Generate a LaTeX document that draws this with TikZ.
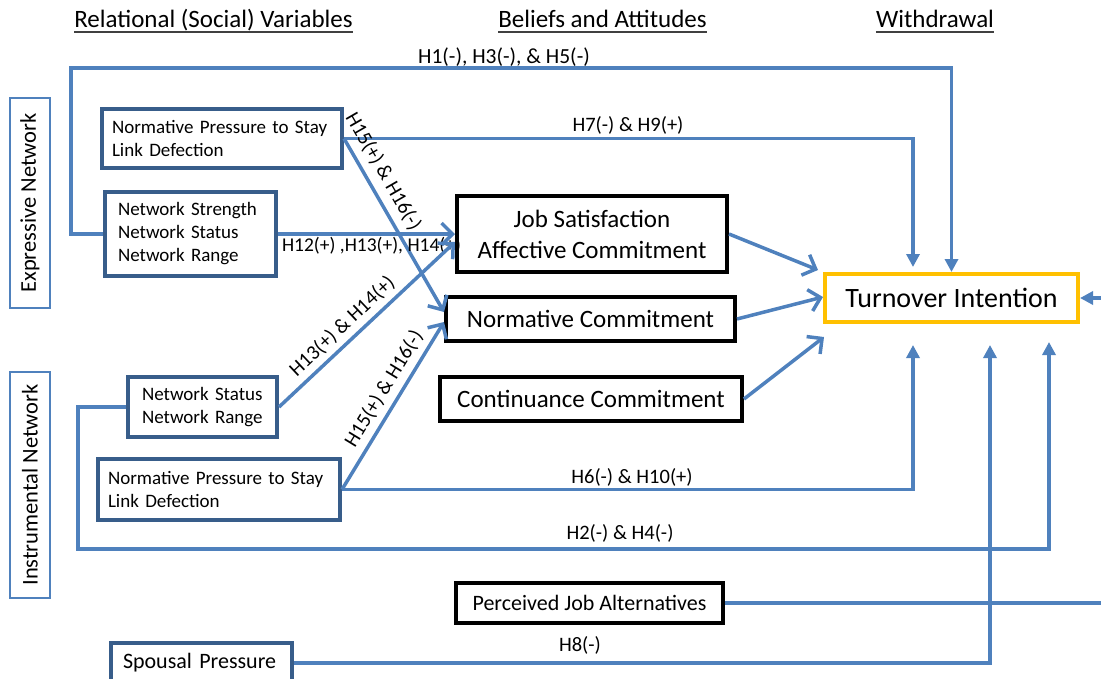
\documentclass[tikz,border=0pt]{standalone}
\usepackage{fontspec}
\setmainfont{Carlito}
\usetikzlibrary{arrows.meta}
\definecolor{lnblue}{HTML}{4F81BD}
\definecolor{bxblue}{HTML}{385D8A}
\definecolor{gold}{HTML}{FFC000}
\begin{document}
\begin{tikzpicture}[x=1pt,y=-1pt,
  conn/.style={draw=lnblue, line width=3.5pt},
  barb/.style={-{Straight Barb[length=11pt,width=22pt]}},
  tri/.style={-{Triangle[length=13pt,width=13pt]}},
  smallbox/.style={draw=bxblue, line width=4pt, fill=white, align=left, inner xsep=10pt, inner ysep=0pt, font=\fontsize{19}{23}\selectfont},
  bigbox/.style={draw=black, line width=4pt, fill=white, align=center, inner sep=0pt, font=\fontsize{25}{31}\selectfont},
  sidebox/.style={draw=lnblue, line width=2pt, rotate=90, inner sep=0pt, font=\fontsize{22.5}{27}\selectfont},
  hyp/.style={font=\fontsize{20.5}{24}\selectfont, inner sep=1pt},
  hdr/.style={font=\fontsize{25}{30}\selectfont, inner sep=0pt, anchor=base},
  uline/.style={line width=2.5pt, black!75}
]
\useasboundingbox (0,0) rectangle (1101,678);
\clip (0,0) rectangle (1101,678);

% headers
\node[hdr] (hdrA) at (213.5,27) {Relational (Social) Variables};
\node[hdr] (hdrB) at (602.5,27) {Beliefs and Attitudes};
\node[hdr] (hdrC) at (935,27) {Withdrawal};
\draw[uline] ([yshift=-5pt]hdrA.base west) -- ([yshift=-5pt]hdrA.base east);
\draw[uline] ([yshift=-5pt]hdrB.base west) -- ([yshift=-5pt]hdrB.base east);
\draw[uline] ([yshift=-5pt]hdrC.base west) -- ([yshift=-5pt]hdrC.base east);

% side boxes
\node[sidebox, minimum width=210pt, minimum height=40pt] (exp) at (30,203) {Expressive Network};
\node[sidebox, minimum width=226pt, minimum height=40pt] (ins) at (30,485) {Instrumental Network};

% small boxes
\node[smallbox, text width=220pt, minimum height=59pt, inner xsep=10pt] (eNP) at (222,138.5) {Normative Pressure to Stay\\Link Defection};
\node[smallbox, text width=145pt, minimum height=84pt, inner xsep=13pt] (eNS) at (190.5,234) {Network Strength\\Network Status\\Network Range};
\node[smallbox, text width=121pt, minimum height=60pt, inner xsep=14pt] (iNS) at (202.5,407) {Network Status\\Network Range};
\node[smallbox, text width=222pt, minimum height=61pt, inner xsep=10pt] (iNP) at (219,489.5) {Normative Pressure to Stay\\Link Defection};
\node[smallbox, font=\fontsize{22}{26}\selectfont, text width=157pt, minimum height=40pt, inner xsep=12pt] (sp) at (201.5,663) {Spousal Pressure};

% big boxes
\node[bigbox, minimum width=270pt, minimum height=76pt] (js) at (592,234) {Job Satisfaction\\Affective Commitment};
\node[bigbox, minimum width=289pt, minimum height=44pt] (nc) at (590.5,319) {Normative Commitment};
\node[bigbox, minimum width=302pt, minimum height=44pt] (cc) at (591,399) {Continuance Commitment};
\node[bigbox, font=\fontsize{22}{26}\selectfont, minimum width=267pt, minimum height=40pt] (pja) at (589.5,603) {Perceived Job Alternatives};
\node[bigbox, draw=gold, font=\fontsize{28}{32}\selectfont, minimum width=253pt, minimum height=48pt] (ti) at (951.5,298) {Turnover Intention};

% connectors
\coordinate (c1) at (71,68);
\draw[conn, tri] (eNS.west) -| (c1) -| (ti.north);
\draw[conn, tri] (eNP.east) -| ([xshift=-38.5pt,yshift=5pt]ti.north);
\draw[conn, barb] (eNP.east) -- ([yshift=7pt]nc.west) node[hyp, sloped, above=6pt, pos=0.24] {H15(+) \& H16(-)};
\draw[conn, barb] (eNS.east) -- (js.west) node[hyp, font=\fontsize{19.5}{23}\selectfont, below, midway, xshift=5pt] {H12(+) ,H13(+), H14(+)};
\draw[conn, barb] (iNS.east) -- ([yshift=-8pt]js.west) node[hyp, sloped, above=4pt, pos=0.42] {H13(+) \& H14(+)};
\draw[conn, barb] (iNP.east) -- ([yshift=-3pt]nc.west) node[hyp, sloped, above=5pt, pos=0.55] {H15(+) \& H16(-)};
\draw[conn, tri] (iNP.east) -| ([xshift=-38.5pt,yshift=-21pt]ti.south);
\coordinate (c2) at (78,549);
\draw[conn, tri] (iNS.west) -| (c2) -| ([xshift=97.5pt,yshift=-18pt]ti.south);
\draw[conn, tri] (sp.east) -| ([xshift=38.5pt,yshift=-21pt]ti.south);
\coordinate (c3) at (1120,603);
\coordinate (c4) at (1120,298);
\draw[conn, tri] (pja.east) -- (c3) -- (c4) -- (ti.east);
\draw[conn, barb] (js.east) -- ([xshift=-5pt,yshift=28pt]ti.west);
\draw[conn, barb] (nc.east) -- ([yshift=1pt]ti.west);
\draw[conn, barb] (cc.east) -- ([xshift=1pt,yshift=-39pt]ti.west);

% hypothesis labels
\node[hyp, font=\fontsize{21.5}{24}\selectfont] (lh1) at (504,57) {H1(-), H3(-), \& H5(-)};
\node[hyp] (lh7) at (628,125) {H7(-) \& H9(+)};
\node[hyp] (lh6) at (632,477) {H6(-) \& H10(+)};
\node[hyp] (lh2) at (620,533) {H2(-) \& H4(-)};
\node[hyp] (lh8) at (580,645) {H8(-)};
\end{tikzpicture}
\end{document}
